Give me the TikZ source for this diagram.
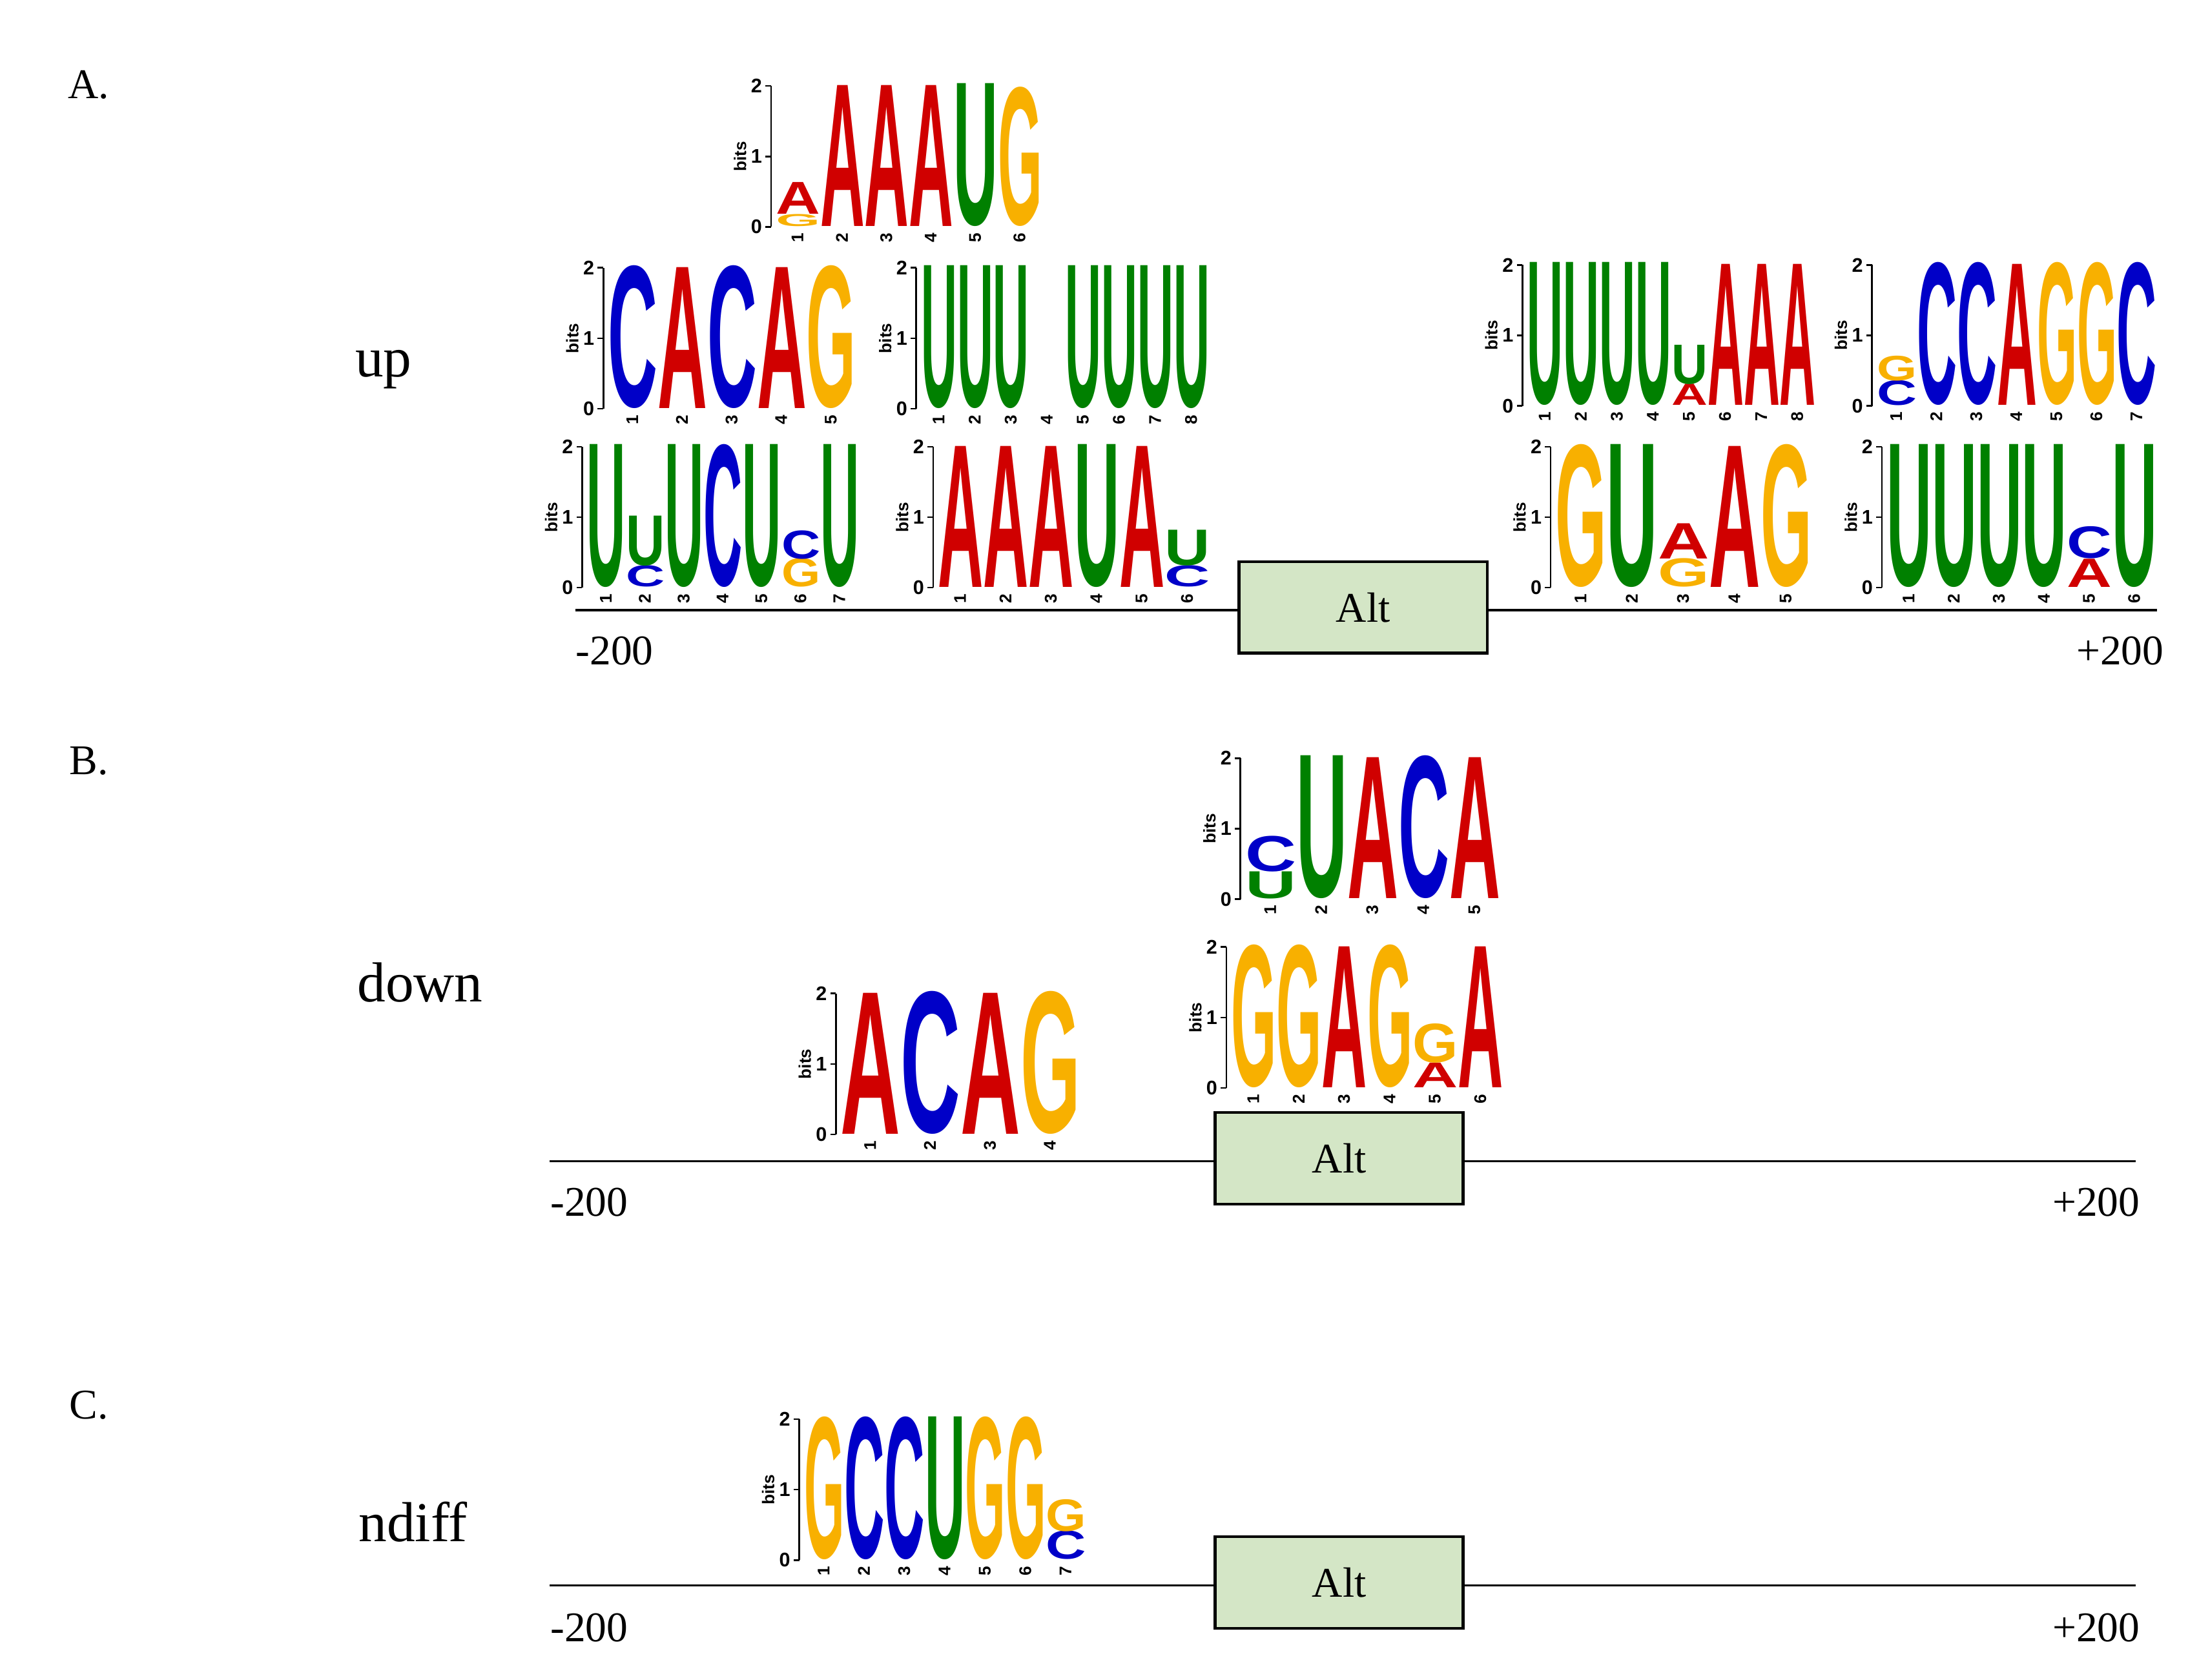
\documentclass[tikz,border=0pt]{standalone}
\usepackage{fontspec}
\usepackage{graphicx}
\setmainfont{Liberation Serif}
\newfontfamily\lf{Liberation Sans}
\definecolor{lA}{HTML}{D00000}
\definecolor{lC}{HTML}{0000C8}
\definecolor{lG}{HTML}{F8B000}
\definecolor{lU}{HTML}{008000}
\definecolor{altfill}{HTML}{D4E6C6}
\newcommand\bitpx{50}
% column: x, ybase, width, list Letter/bits (bottom to top)
\newcommand\col[4]{%
  \xdef\cury{#2}%
  \foreach \L/\h in {#4}{%
    \pgfmathsetmacro\myhh{\h*\bitpx}%
    \pgfmathsetmacro\myhd{\myhh*0.5}%
    \pgfmathsetmacro\mywd{#3*0.5}%
    \node[inner sep=0,anchor=south west,text=l\L] at (#1,\cury) {\resizebox{\mywd pt}{\myhd pt}{\lf\bfseries\L}};
    \pgfmathsetmacro\myny{\cury-\myhh}%
    \xdef\cury{\myny}%
  }}
% axis: x, ybase, ncols, colw
\newcommand\ax[4]{%
  \draw[line width=0.6pt] (#1,#2) -- (#1,#2-2*\bitpx);
  \foreach \t in {0,1,2}{
    \draw[line width=0.6pt] (#1,#2-\t*\bitpx) -- (#1-4,#2-\t*\bitpx);
    \node[font=\lf\bfseries\fontsize{7}{7}\selectfont,anchor=east,inner sep=1pt] at (#1-4,#2-\t*\bitpx) {\t};}
  \node[font=\lf\bfseries\fontsize{6}{6}\selectfont,rotate=90] at (#1-22,#2-\bitpx) {bits};
  \foreach \n in {1,...,#3}{
    \node[font=\lf\bfseries\fontsize{6}{6}\selectfont,rotate=90,anchor=east,inner sep=1pt] at (#1+3+#4*\n-#4*0.5,#2+2) {\n};}
}
\tikzset{lab/.style={font=\fontsize{15}{15}\selectfont},
  big/.style={font=\fontsize{20}{20}\selectfont},
  alt/.style={draw,line width=1pt,fill=altfill,minimum width=88pt,minimum height=32.5pt,inner sep=0,font=\fontsize{15}{15}\selectfont}}
\begin{document}
\begin{tikzpicture}[x=0.5pt,y=-0.5pt]
\useasboundingbox (0,0) rectangle (1560,1192);
% ---------- A
\node[lab] (la) at (63,60) {A.};
\node[big] (up) at (272,262) {up};
\coordinate (a1) at (408,433); \coordinate (a2) at (1530,433);
\draw[line width=0.8pt] (a1) -- (a2);
\node[alt] (altA) at (967,431) {Alt};
\node[lab] (am) at (436,462) {-200};
\node[lab] (ap) at (1504,462) {+200};
% logo AAAUG
\ax{547}{161}{6}{31.5}
\col{550}{161}{31.5}{G/0.17,A/0.45}
\col{581.5}{161}{31.5}{A/2}\col{613}{161}{31.5}{A/2}\col{644.5}{161}{31.5}{A/2}
\col{676}{161}{31.5}{U/2}\col{707.5}{161}{31.5}{G/1.95}
% CACAG
\ax{428}{290}{5}{35.2}
\col{431}{290}{35.2}{C/2}\col{466.2}{290}{35.2}{A/2}\col{501.4}{290}{35.2}{C/2}\col{536.6}{290}{35.2}{A/2}\col{571.8}{290}{35.2}{G/2}
% UUU UUUU
\ax{650}{290}{8}{25.6}
\col{653}{290}{25.6}{U/2}\col{678.6}{290}{25.6}{U/2}\col{704.2}{290}{25.6}{U/2}
\col{755.4}{290}{25.6}{U/2}\col{781}{290}{25.6}{U/2}\col{806.6}{290}{25.6}{U/2}\col{832.2}{290}{25.6}{U/2}
% UUUUuAAA
\ax{1080}{288}{8}{25.6}
\col{1083}{288}{25.6}{U/2}\col{1108.6}{288}{25.6}{U/2}\col{1134.2}{288}{25.6}{U/2}\col{1159.8}{288}{25.6}{U/2}
\col{1185.4}{288}{25.6}{A/0.3,U/0.55}
\col{1211}{288}{25.6}{A/2}\col{1236.6}{288}{25.6}{A/2}\col{1262.2}{288}{25.6}{A/2}
% gCCAGGC
\ax{1328}{288}{7}{28.4}
\col{1331}{288}{28.4}{C/0.35,G/0.35}
\col{1359.4}{288}{28.4}{C/2}\col{1387.8}{288}{28.4}{C/2}\col{1416.2}{288}{28.4}{A/2}
\col{1444.6}{288}{28.4}{G/2}\col{1473}{288}{28.4}{G/2}\col{1501.4}{288}{28.4}{C/2}
% UuUCUcU
\ax{413}{417}{7}{27.6}
\col{416}{417}{27.6}{U/2}\col{443.6}{417}{27.6}{C/0.3,U/0.7}\col{471.2}{417}{27.6}{U/2}
\col{498.8}{417}{27.6}{C/2}\col{526.4}{417}{27.6}{U/2}\col{554}{417}{27.6}{G/0.4,C/0.4}\col{581.6}{417}{27.6}{U/2}
% AAAUAu
\ax{662}{417}{6}{32.2}
\col{665}{417}{32.2}{A/2}\col{697.2}{417}{32.2}{A/2}\col{729.4}{417}{32.2}{A/2}
\col{761.6}{417}{32.2}{U/2}\col{793.8}{417}{32.2}{A/2}\col{826}{417}{32.2}{C/0.3,U/0.5}
% GUaAG
\ax{1100}{417}{5}{36.4}
\col{1103}{417}{36.4}{G/2}\col{1139.4}{417}{36.4}{U/2}\col{1175.8}{417}{36.4}{G/0.4,A/0.5}
\col{1212.2}{417}{36.4}{A/2}\col{1248.6}{417}{36.4}{G/2}
% UUUUcU
\ax{1335}{417}{6}{32}
\col{1338}{417}{32}{U/2}\col{1370}{417}{32}{U/2}\col{1402}{417}{32}{U/2}\col{1434}{417}{32}{U/2}
\col{1466}{417}{32}{A/0.4,C/0.45}\col{1498}{417}{32}{U/2}
% ---------- B
\node[lab] (lb) at (63,540) {B.};
\node[big] (down) at (298,697) {down};
\coordinate (b1) at (390,824); \coordinate (b2) at (1515,824);
\draw[line width=0.8pt] (b1) -- (b2);
\node[alt] (altB) at (950,822) {Alt};
\node[lab] (bm) at (418,853) {-200};
\node[lab] (bp) at (1487,853) {+200};
\ax{880}{638}{5}{36.2}
\col{883}{638}{36.2}{U/0.38,C/0.5}\col{919.2}{638}{36.2}{U/2}\col{955.4}{638}{36.2}{A/2}\col{991.6}{638}{36.2}{C/2}\col{1027.8}{638}{36.2}{A/2}
\ax{870}{772}{6}{32.2}
\col{873}{772}{32.2}{G/2}\col{905.2}{772}{32.2}{G/2}\col{937.4}{772}{32.2}{A/2}\col{969.6}{772}{32.2}{G/2}
\col{1001.8}{772}{32.2}{A/0.35,G/0.55}\col{1034}{772}{32.2}{A/2}
\ax{593}{805}{4}{42.5}
\col{596}{805}{42.5}{A/2}\col{638.5}{805}{42.5}{C/2}\col{681}{805}{42.5}{A/2}\col{723.5}{805}{42.5}{G/2}
% ---------- C
\node[lab] (lc) at (63,997) {C.};
\node[big] (nd) at (293,1080) {ndiff};
\coordinate (c1) at (390,1125); \coordinate (c2) at (1515,1125);
\draw[line width=0.8pt] (c1) -- (c2);
\node[alt] (altC) at (950,1123) {Alt};
\node[lab] (cm) at (418,1155) {-200};
\node[lab] (cp) at (1487,1155) {+200};
\ax{567}{1107}{7}{28.6}
\col{570}{1107}{28.6}{G/2}\col{598.6}{1107}{28.6}{C/2}\col{627.2}{1107}{28.6}{C/2}\col{655.8}{1107}{28.6}{U/2}
\col{684.4}{1107}{28.6}{G/2}\col{713}{1107}{28.6}{G/2}\col{741.6}{1107}{28.6}{C/0.4,G/0.45}
\end{tikzpicture}
\end{document}
